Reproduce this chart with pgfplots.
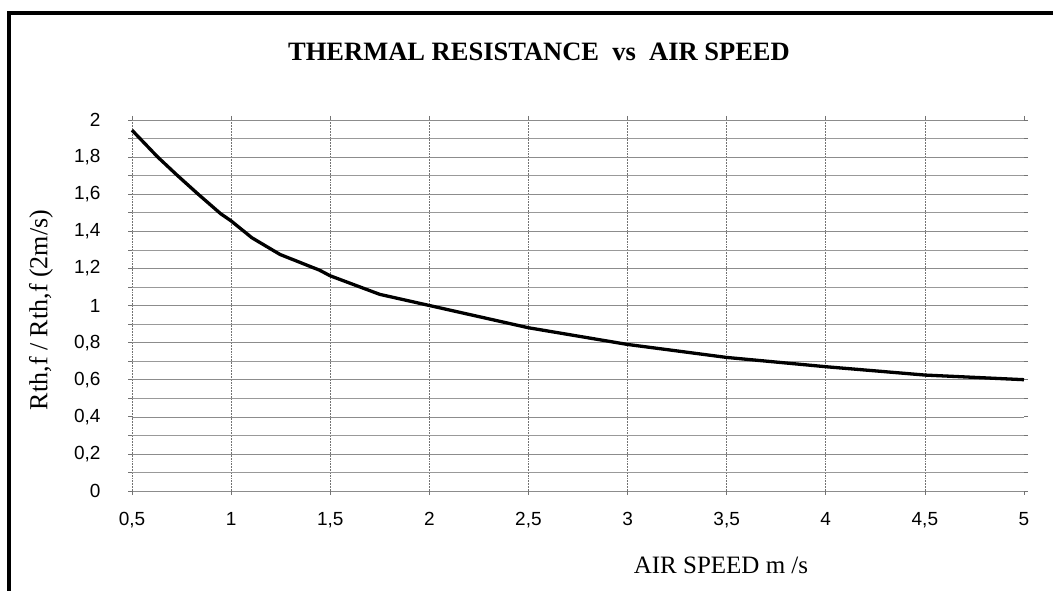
\documentclass[border=0pt]{standalone}
\usepackage{fontspec}
\setmainfont{Liberation Serif}
\newfontfamily\arial{Liberation Sans}
\usepackage{pgfplots}
\pgfplotsset{compat=1.18}
\begin{document}
\begin{tikzpicture}[x=1pt,y=1pt]
\useasboundingbox (0,0) rectangle (1053,591);
% frame (left and top edges visible)
\draw[line width=4pt,line cap=rect] (9,0) -- (9,578) -- (1053,578);
\node[font=\fontsize{26.5}{30}\selectfont\bfseries] at (539,539) {THERMAL RESISTANCE\ \ vs\ \ AIR SPEED};
\node[font=\fontsize{25}{28}\selectfont] at (721,26) {AIR SPEED m /s};
\node[font=\fontsize{26}{30}\selectfont,rotate=90] at (41,281) {Rth,f / Rth,f (2m/s)};
\begin{axis}[
  at={(132pt,100pt)}, anchor=south west,
  scale only axis, width=892pt, height=371pt,
  xmin=0.5, xmax=5, ymin=0, ymax=2,
  xtick={0.5,1,...,4.5},
  extra x ticks={5}, extra x tick style={grid=none},
  ytick={0,0.2,...,2.01},
  minor y tick num=1,
  xmajorgrids, ymajorgrids, yminorgrids,
  major grid style={black!45, line width=0.55pt},
  x grid style={black!55, densely dotted, line width=0.6pt},
  minor grid style={black!40, line width=0.55pt},
  axis line style={draw=none},
  tick align=outside,
  major tick length=4pt, minor tick length=4pt,
  tick style={black!55, line width=0.6pt},
  tick label style={font=\arial\fontsize{19}{22}\selectfont},
  /pgf/number format/assume math mode=true,
  /pgf/number format/use comma,
  xticklabel style={yshift=-14pt},
  yticklabel style={xshift=-24pt},
  clip=false,
]
\addplot[black, line width=3.3pt, line join=round] coordinates {
(0.5,1.945) (0.63,1.80) (0.73,1.70) (0.834,1.60) (0.947,1.495) (1.0,1.456)
(1.105,1.365) (1.247,1.275) (1.447,1.19) (1.5,1.16) (1.75,1.06) (2.0,1.0)
(2.5,0.88) (3.0,0.79) (3.5,0.72) (4.0,0.67) (4.5,0.625) (5.0,0.60)
};
\end{axis}
\end{tikzpicture}
\end{document}
